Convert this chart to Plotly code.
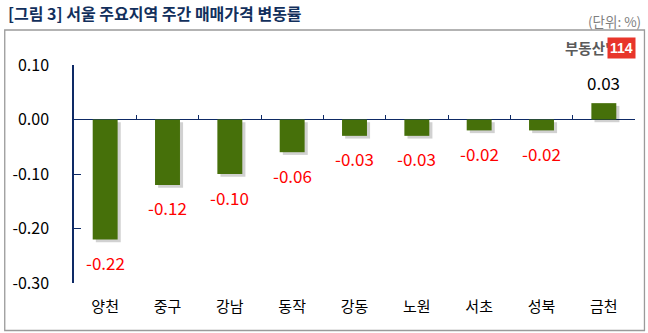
import plotly.graph_objects as go

categories = ["양천", "중구", "강남", "동작", "강동", "노원", "서초", "성북", "금천"]
values = [-0.22, -0.12, -0.10, -0.06, -0.03, -0.03, -0.02, -0.02, 0.03]
y_ticks = [0.10, 0.00, -0.10, -0.20, -0.30]
y_tick_labels = ["0.10", "0.00", "-0.10", "-0.20", "-0.30"]

W, H = 648, 333
L, R, T, B = 72, 13, 65, 50
NAVY = "#0E2A66"
BAR = "#46700A"
FONT = "Noto Sans CJK KR"

shadow_shift = 0.005
fig = go.Figure()
# soft shadow
fig.add_trace(go.Bar(
    x=categories, y=values, base=[-shadow_shift] * len(values),
    marker=dict(color="rgba(0,0,0,0.18)", line=dict(width=0)),
    width=0.4, offset=-0.2 + 0.05, hoverinfo="skip", showlegend=False,
))
fig.add_trace(go.Bar(
    x=categories, y=values,
    marker=dict(color=BAR, line=dict(width=0)),
    width=0.4, offset=-0.2, showlegend=False,
))
# invisible trace for zero-line tick axis
fig.add_trace(go.Scatter(x=categories, y=values, xaxis="x2", mode="markers",
                         marker=dict(opacity=0), hoverinfo="skip", showlegend=False))

ymin, ymax = -0.30, 0.10
zero_pos = (0 - ymin) / (ymax - ymin)

for c, v in zip(categories, values):
    fig.add_annotation(
        x=c, y=v, xref="x", yref="y",
        text=f"{v:.2f}", showarrow=False,
        yanchor="middle", yshift=(21 if v > 0 else -23),
        font=dict(family=FONT, size=17, color=("#000000" if v > 0 else "#FF0000")),
    )

fig.update_layout(
    width=W, height=H,
    margin=dict(l=L, r=R, t=T, b=B),
    paper_bgcolor="white", plot_bgcolor="white",
    barmode="overlay",
    font=dict(family=FONT, color="#000000"),
    xaxis=dict(
        type="category", range=[-0.5, len(categories) - 0.5],
        showline=False, showgrid=False, zeroline=False, ticks="",
        tickfont=dict(family=FONT, size=15, color="#000000"),
        ticklabelstandoff=13,
    ),
    xaxis2=dict(
        type="category", overlaying="x", matches="x", anchor="free", position=zero_pos,
        side="bottom", showline=False,
        ticks="inside", tickson="boundaries", ticklen=5, tickcolor=NAVY, tickwidth=1.3,
        showticklabels=False, showgrid=False, zeroline=False,
    ),
    yaxis=dict(
        range=[ymin, ymax], tickvals=y_ticks, ticktext=y_tick_labels,
        showline=True, linecolor=NAVY, linewidth=1.5,
        ticks="inside", ticklen=7, tickcolor=NAVY, tickwidth=1.3,
        showgrid=False, zeroline=True, zerolinecolor=NAVY, zerolinewidth=1.3,
        tickfont=dict(family=FONT, size=16, color="#000000"),
        ticklabelstandoff=20,
    ),
    shapes=[
        dict(type="rect", xref="paper", yref="paper",
             x0=-(L - 2.5) / (W - L - R), x1=1 + (R - 3.5) / (W - L - R),
             y0=-(B - 2.5) / (H - T - B), y1=1 + (T - 30) / (H - T - B),
             line=dict(color="#9A9A9A", width=1.3), fillcolor="rgba(0,0,0,0)", layer="below"),
    ],
)

# title, unit, logo
fig.add_annotation(xref="paper", yref="paper", x=-(L - 4) / (W - L - R), y=1 + (T - 13) / (H - T - B),
                   xanchor="left", yanchor="middle", showarrow=False,
                   text="<b>[그림 3] 서울 주요지역 주간 매매가격 변동률</b>",
                   font=dict(family=FONT, size=16, color="#122F5C"))
fig.add_annotation(xref="paper", yref="paper", x=1 + (R - 5) / (W - L - R), y=1 + (T - 21) / (H - T - B),
                   xanchor="right", yanchor="middle", showarrow=False,
                   text="(단위: %)", font=dict(family=FONT, size=13.5, color="#7F7F7F"))
fig.add_annotation(xref="paper", yref="paper", x=1 + (R - 36) / (W - L - R), y=1 + (T - 48) / (H - T - B),
                   xanchor="right", yanchor="middle", showarrow=False,
                   text="<b>부동산'</b>", font=dict(family=FONT, size=14.5, color="#5A5A5A"))
fig.add_annotation(xref="paper", yref="paper", x=1 + (R - 12) / (W - L - R), y=1 + (T - 48) / (H - T - B),
                   xanchor="right", yanchor="middle", showarrow=False,
                   text="<b>114</b>", bgcolor="#E8352A", borderpad=2,
                   font=dict(family="Liberation Sans Narrow, Liberation Sans", size=14, color="white"))

fig.write_html("out.html")
